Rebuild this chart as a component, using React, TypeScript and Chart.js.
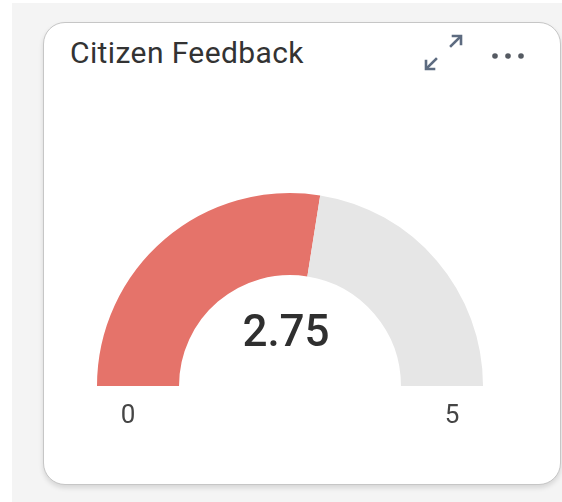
import React, { useEffect, useRef } from "react";
import { Chart, registerables } from "chart.js";

Chart.register(...registerables);

const title = "Citizen Feedback";
const gaugeMin = 0;
const gaugeMax = 5;
const gaugeValue = 2.75;
const segmentLabels = ["Score", "Remaining"];
const segmentColors = ["#e5736a", "#e6e6e6"];

const gaugeTextPlugin = {
  id: "gaugeText",
  afterDraw(chart: any) {
    const meta = chart.getDatasetMeta(0);
    const arc = meta.data[0];
    if (!arc) return;
    const { x, y, outerRadius } = arc.getProps(["x", "y", "outerRadius"], true);
    const ctx = chart.ctx;
    ctx.save();
    ctx.textAlign = "center";
    ctx.textBaseline = "alphabetic";
    ctx.fillStyle = "#2f2f2f";
    ctx.font = "500 44px Roboto";
    ctx.fillText(String(gaugeValue), x - 4, y - 40);
    ctx.fillStyle = "#454545";
    ctx.font = "26px Roboto";
    ctx.fillText(String(gaugeMin), x - outerRadius + 31, y + 37);
    ctx.fillText(String(gaugeMax), x + outerRadius - 31, y + 37);
    ctx.restore();
  },
};

function Gauge() {
  const ref = useRef<HTMLCanvasElement | null>(null);
  useEffect(() => {
    if (!ref.current) return;
    const chart = new Chart(ref.current, {
      type: "doughnut",
      data: {
        labels: segmentLabels,
        datasets: [
          {
            data: [gaugeValue - gaugeMin, gaugeMax - gaugeValue],
            backgroundColor: segmentColors,
            borderWidth: 0,
            hoverOffset: 0,
          },
        ],
      },
      options: {
        responsive: false,
        animation: false,
        devicePixelRatio: 1,
        rotation: -90,
        circumference: 180,
        cutout: "57.5%",
        layout: { padding: { left: 16, right: 18, top: 12, bottom: 55 } },
        plugins: {
          legend: { display: false },
          tooltip: { enabled: false },
        },
        events: [],
      },
      plugins: [gaugeTextPlugin],
    });
    return () => chart.destroy();
  }, []);
  return (
    <canvas
      ref={ref}
      width={420}
      height={260}
      style={{ position: "absolute", left: 80 - 43, top: 180 - 22, width: 420, height: 260 }}
    />
  );
}

export default function App() {
  return (
    <div style={{ position: "fixed", inset: 0, background: "#ffffff", overflow: "hidden" }}>
      <div style={{ position: "absolute", left: 12, top: 3, right: 0, bottom: 0, background: "#f4f4f4" }} />
      <div
        style={{
          position: "absolute",
          left: 43,
          top: 22,
          width: 518,
          height: 463,
          boxSizing: "border-box",
          background: "#ffffff",
          border: "1px solid #c6c6c6",
          borderRadius: 22,
          boxShadow: "0 3px 5px rgba(0,0,0,0.12)",
        }}
      >
        <div
          style={{
            position: "absolute",
            left: 26,
            top: 12,
            fontFamily: "Roboto, sans-serif",
            fontSize: 30,
            letterSpacing: 0.4,
            color: "#333333",
            whiteSpace: "nowrap",
            lineHeight: "36px",
          }}
        >
          {title}
        </div>
        <svg
          width={44}
          height={40}
          style={{ position: "absolute", left: 421 - 43, top: 31 - 22 }}
          viewBox="0 0 44 40"
        >
          <g stroke="#5d6b80" strokeWidth={2.6} fill="none" strokeLinecap="square">
            <line x1={29} y1={14} x2={38} y2={5} />
            <polyline points="31,4 39,4 39,12" />
            <line x1={14} y1={27} x2={5} y2={36} />
            <polyline points="4,29 4,37 12,37" />
          </g>
        </svg>
        <svg
          width={40}
          height={12}
          style={{ position: "absolute", left: 489 - 43, top: 49 - 22 }}
          viewBox="0 0 40 12"
        >
          <g fill="#555a62">
            <circle cx={5} cy={6} r={2.8} />
            <circle cx={18} cy={6} r={2.8} />
            <circle cx={31} cy={6} r={2.8} />
          </g>
        </svg>
        <Gauge />
      </div>
    </div>
  );
}
